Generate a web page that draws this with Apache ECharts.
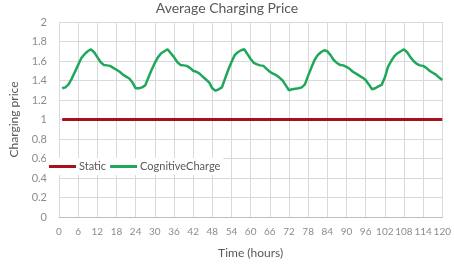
<!DOCTYPE html>
<html>
<head>
<meta charset="utf-8">
<script src="https://cdn.jsdelivr.net/npm/echarts@6/dist/echarts.min.js"></script>
<style>html,body{margin:0;padding:0;background:#fff;}#c{width:454px;height:266px;}</style>
</head>
<body>
<div id="c"></div>
<script>
var hours = [];
for (var i = 1; i <= 120; i++) hours.push(i);
var staticPrice = [];
for (var j = 0; j < 120; j++) staticPrice.push(1);
var cognitiveCharge = [
  1.32,1.33,1.36,1.42,1.49,1.56,1.63,1.67,1.70,1.72,1.69,1.64,1.59,1.56,1.555,1.55,1.53,1.51,1.49,1.46,1.44,1.42,1.38,1.32,
  1.32,1.33,1.35,1.43,1.51,1.58,1.64,1.68,1.70,1.72,1.68,1.64,1.59,1.56,1.555,1.55,1.53,1.50,1.49,1.47,1.44,1.41,1.38,1.32,
  1.295,1.31,1.33,1.42,1.51,1.59,1.66,1.69,1.71,1.72,1.67,1.62,1.58,1.565,1.555,1.55,1.52,1.49,1.47,1.455,1.43,1.40,1.35,1.30,
  1.31,1.315,1.32,1.33,1.36,1.45,1.53,1.61,1.66,1.69,1.71,1.70,1.66,1.61,1.58,1.56,1.555,1.54,1.52,1.49,1.47,1.45,1.43,1.405,
  1.36,1.31,1.32,1.34,1.355,1.43,1.54,1.60,1.65,1.68,1.70,1.72,1.69,1.64,1.60,1.57,1.555,1.55,1.53,1.50,1.48,1.46,1.43,1.405
];
var seriesNames = ['Static', 'CognitiveCharge'];
var titleText = 'Average Charging Price';
var xName = 'Time (hours)';
var yName = 'Charging price';

function pairs(xs, ys) { return xs.map(function (x, k) { return [x, ys[k]]; }); }

var font = 'Lato, "Open Sans", sans-serif';
var chart = echarts.init(document.getElementById('c'), null, {renderer: 'canvas'});
chart.setOption({
  animation: false,
  title: {
    text: titleText, left: 'center', top: -4,
    textStyle: {fontFamily: font, fontSize: 14, fontWeight: 'normal', color: '#595959'}
  },
  grid: {left: 43, right: 10, top: 22, bottom: 49, containLabel: false},
  legend: {
    data: [{name: seriesNames[0], icon: 'rect'}, {name: seriesNames[1], icon: 'rect'}],
    left: 46, top: 158, orient: 'horizontal',
    itemWidth: 27, itemHeight: 3, itemGap: 4,
    backgroundColor: '#ffffff', padding: [3, 3, 3, 3],
    textStyle: {fontFamily: font, fontSize: 11, color: '#595959', padding: [0, 0, 0, -2]}
  },
  xAxis: {
    type: 'value', min: 0, max: 120, interval: 6,
    name: xName, nameLocation: 'middle', nameGap: 30,
    nameTextStyle: {fontFamily: font, fontSize: 12, color: '#595959'},
    axisLine: {show: true, lineStyle: {color: '#bfbfbf', width: 1}},
    axisTick: {show: false},
    axisLabel: {fontFamily: font, fontSize: 10, color: '#8c8c8c', margin: 10, showMinLabel: true, showMaxLabel: true},
    splitLine: {show: true, lineStyle: {color: '#d9d9d9', width: 1}}
  },
  yAxis: {
    type: 'value', min: 0, max: 2, interval: 0.2,
    name: yName, nameLocation: 'middle', nameGap: 39,
    nameTextStyle: {fontFamily: font, fontSize: 12, color: '#595959'},
    axisLine: {show: false},
    axisTick: {show: false},
    axisLabel: {fontFamily: font, fontSize: 11, color: '#8c8c8c', margin: 12,
      formatter: function (v) { return +v.toFixed(1) + ''; }},
    splitLine: {show: true, lineStyle: {color: '#d9d9d9', width: 1}}
  },
  series: [
    {name: seriesNames[0], type: 'line', data: pairs(hours, staticPrice), showSymbol: false,
     lineStyle: {color: '#a8101c', width: 3}, itemStyle: {color: '#a8101c'}},
    {name: seriesNames[1], type: 'line', data: pairs(hours, cognitiveCharge), showSymbol: false,
     lineStyle: {color: '#1fa85a', width: 2.5}, itemStyle: {color: '#1fa85a'}}
  ]
});
</script>
</body>
</html>
